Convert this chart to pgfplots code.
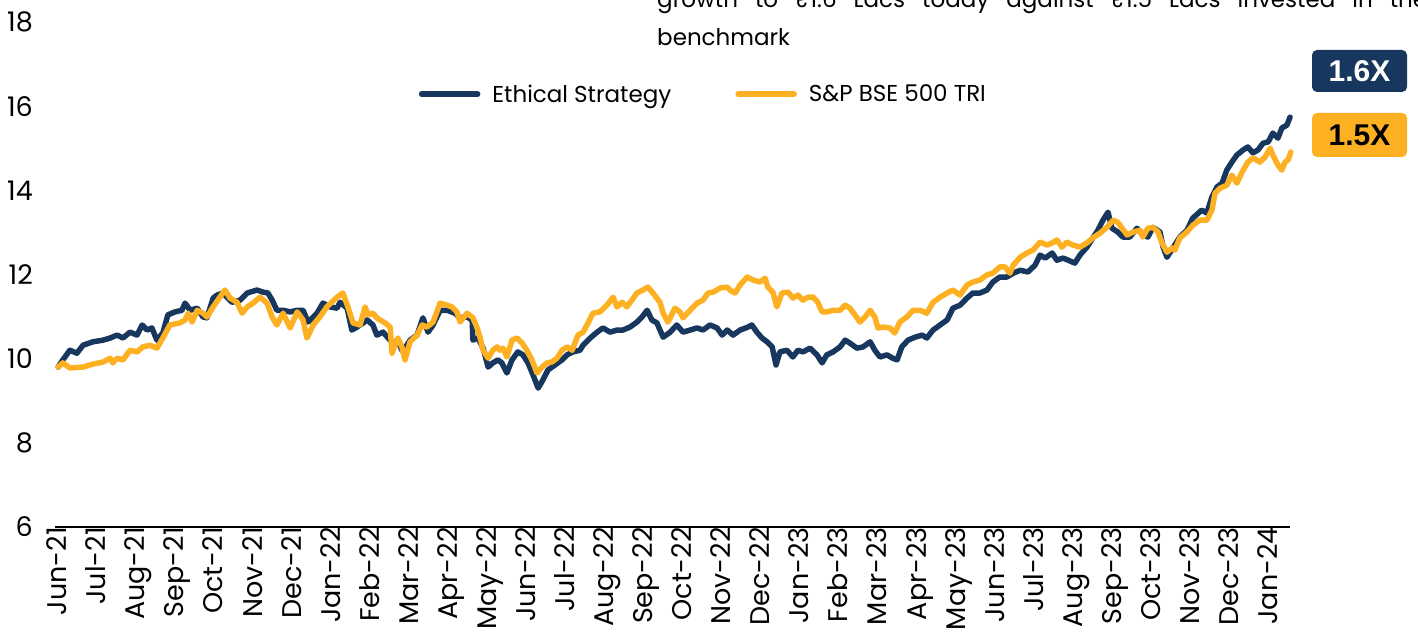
\documentclass[border=0pt]{standalone}
\usepackage{fontspec}
\setmainfont{Poppins}
\newfontfamily\labelfont{Liberation Sans}
\usepackage{pgfplots}
\usepackage{pgfplotstable}
\pgfplotsset{compat=1.18}
\definecolor{navy}{HTML}{17375E}
\definecolor{gold}{HTML}{FDB022}

\pgfplotstableread{
m v
0.08 9.80
0.20 9.97
0.38 10.20
0.56 10.13
0.72 10.32
0.97 10.40
1.23 10.44
1.41 10.49
1.59 10.56
1.74 10.49
1.92 10.63
2.10 10.56
2.23 10.80
2.36 10.68
2.48 10.73
2.61 10.44
2.76 10.61
2.89 11.04
3.07 11.11
3.25 11.15
3.33 11.32
3.46 11.15
3.64 11.20
3.79 10.99
3.89 10.97
4.05 11.44
4.15 11.51
4.30 11.56
4.53 11.34
4.74 11.39
4.92 11.56
5.17 11.63
5.33 11.58
5.45 11.56
5.56 11.39
5.68 11.15
5.84 11.15
6.02 11.11
6.20 11.15
6.35 11.15
6.48 10.87
6.71 11.08
6.86 11.32
7.04 11.23
7.22 11.20
7.30 11.34
7.48 11.20
7.60 10.68
7.73 10.75
7.89 10.85
7.99 10.92
8.14 10.80
8.24 10.56
8.40 10.63
8.53 10.49
8.65 10.37
8.78 10.44
8.88 10.20
8.96 10.25
9.09 10.44
9.27 10.56
9.42 10.97
9.55 10.63
9.68 10.80
9.86 11.15
10.04 11.15
10.24 11.08
10.37 10.97
10.55 10.99
10.68 10.92
10.70 10.44
10.83 10.49
10.96 10.25
11.09 9.80
11.21 9.90
11.34 9.97
11.44 9.90
11.57 9.66
11.70 9.97
11.85 10.16
11.98 10.09
12.11 9.90
12.24 9.61
12.37 9.30
12.49 9.49
12.62 9.73
12.80 9.85
12.98 9.97
13.11 10.09
13.26 10.16
13.44 10.20
13.52 10.32
13.70 10.49
13.88 10.63
14.03 10.73
14.21 10.63
14.39 10.68
14.54 10.68
14.72 10.75
14.90 10.87
15.03 10.99
15.16 11.15
15.28 10.92
15.41 10.85
15.57 10.51
15.75 10.63
15.92 10.80
16.08 10.63
16.26 10.68
16.44 10.73
16.59 10.68
16.77 10.80
16.95 10.73
17.08 10.56
17.21 10.68
17.36 10.56
17.54 10.68
17.74 10.75
17.84 10.80
17.97 10.63
18.10 10.49
18.23 10.40
18.36 10.28
18.46 9.85
18.56 10.16
18.74 10.20
18.89 10.04
19.02 10.20
19.15 10.16
19.33 10.25
19.51 10.09
19.64 9.90
19.76 10.09
19.92 10.16
20.10 10.28
20.23 10.44
20.35 10.37
20.53 10.25
20.69 10.28
20.87 10.40
20.99 10.20
21.12 10.04
21.30 10.09
21.45 10.01
21.56 9.97
21.68 10.28
21.84 10.44
22.02 10.51
22.20 10.56
22.32 10.49
22.48 10.68
22.66 10.80
22.84 10.92
22.99 11.20
23.17 11.27
23.35 11.44
23.50 11.56
23.68 11.56
23.86 11.63
24.01 11.82
24.19 11.94
24.37 11.94
24.53 12.03
24.71 12.10
24.91 12.06
25.09 12.22
25.22 12.46
25.35 12.39
25.53 12.51
25.65 12.34
25.81 12.39
25.94 12.34
26.11 12.27
26.24 12.46
26.42 12.65
26.57 12.87
26.70 13.05
26.83 13.29
26.96 13.48
27.06 13.10
27.21 13.01
27.34 12.89
27.52 12.89
27.70 13.10
27.85 12.94
27.98 12.89
28.11 13.12
28.29 13.01
28.37 12.65
28.47 12.41
28.62 12.63
28.80 12.89
28.98 13.05
29.13 13.34
29.36 13.53
29.49 13.46
29.62 13.84
29.75 14.08
29.88 14.17
30.00 14.48
30.13 14.67
30.26 14.84
30.42 14.96
30.54 15.03
30.67 14.89
30.80 14.96
30.93 15.12
31.06 15.15
31.18 15.36
31.31 15.24
31.41 15.48
31.54 15.55
31.62 15.74
}\ethical

\pgfplotstableread{
m v
0.08 9.80
0.20 9.90
0.38 9.78
0.72 9.80
0.97 9.87
1.23 9.92
1.41 10.01
1.48 9.90
1.59 10.01
1.74 9.97
1.92 10.20
2.10 10.16
2.25 10.28
2.43 10.32
2.61 10.25
2.76 10.49
2.94 10.80
3.20 10.85
3.33 10.92
3.41 11.08
3.51 10.87
3.64 11.15
3.79 11.08
3.89 10.99
4.05 11.23
4.22 11.46
4.35 11.63
4.48 11.44
4.66 11.34
4.79 11.08
4.92 11.23
5.07 11.32
5.25 11.46
5.43 11.32
5.56 10.99
5.68 10.80
5.84 11.08
6.02 10.73
6.20 11.11
6.35 10.92
6.45 10.49
6.61 10.80
6.78 10.99
6.96 11.23
7.22 11.46
7.37 11.56
7.50 11.23
7.63 10.85
7.81 10.80
7.94 11.23
8.01 11.04
8.14 11.08
8.24 10.97
8.32 10.92
8.45 10.85
8.58 10.75
8.63 10.13
8.70 10.32
8.78 10.49
8.88 10.28
8.96 9.97
9.09 10.40
9.27 10.56
9.40 10.80
9.52 10.75
9.68 10.87
9.86 11.32
10.04 11.27
10.16 11.23
10.29 11.11
10.37 10.87
10.55 11.08
10.70 10.97
10.80 10.75
10.88 10.51
10.96 10.20
11.09 10.01
11.21 10.20
11.32 10.28
11.39 10.20
11.47 10.25
11.57 10.04
11.70 10.44
11.83 10.49
11.96 10.37
12.08 10.20
12.21 9.97
12.34 9.66
12.47 9.80
12.60 9.90
12.72 9.92
12.85 10.01
12.98 10.20
13.11 10.28
13.24 10.20
13.39 10.56
13.52 10.63
13.65 10.85
13.77 11.08
13.95 11.11
14.13 11.27
14.29 11.46
14.39 11.23
14.52 11.34
14.64 11.23
14.77 11.39
14.90 11.56
15.05 11.63
15.18 11.70
15.31 11.56
15.49 11.34
15.57 11.08
15.69 10.87
15.75 10.97
15.87 11.20
16.00 11.11
16.08 10.97
16.26 11.15
16.44 11.32
16.59 11.39
16.72 11.56
16.85 11.58
17.03 11.68
17.21 11.70
17.28 11.63
17.41 11.56
17.54 11.75
17.72 11.94
17.87 11.87
18.05 11.82
18.18 11.91
18.25 11.70
18.38 11.58
18.48 11.23
18.61 11.56
18.77 11.58
18.89 11.44
19.02 11.51
19.15 11.39
19.28 11.46
19.41 11.46
19.53 11.34
19.64 11.11
19.76 11.11
19.92 11.15
20.10 11.15
20.23 11.27
20.35 11.20
20.48 11.04
20.61 10.87
20.74 10.99
20.87 11.15
20.99 10.99
21.07 10.73
21.20 10.75
21.38 10.73
21.50 10.61
21.63 10.87
21.81 10.99
21.97 11.15
22.15 11.15
22.32 11.08
22.48 11.34
22.66 11.46
22.84 11.56
22.99 11.63
23.17 11.51
23.35 11.75
23.50 11.82
23.68 11.87
23.86 11.99
24.01 12.03
24.19 12.18
24.32 12.18
24.45 12.03
24.53 12.22
24.71 12.41
24.88 12.51
25.04 12.58
25.22 12.77
25.40 12.70
25.53 12.75
25.65 12.82
25.78 12.65
25.91 12.77
26.06 12.70
26.24 12.65
26.42 12.75
26.57 12.87
26.75 12.98
26.93 13.12
27.09 13.29
27.21 13.24
27.32 13.10
27.45 12.94
27.60 13.01
27.78 13.05
27.85 12.89
27.98 13.10
28.11 13.12
28.24 13.01
28.34 12.75
28.47 12.53
28.60 12.63
28.67 12.58
28.80 12.87
28.98 13.01
29.13 13.17
29.31 13.29
29.49 13.29
29.62 13.53
29.70 13.93
29.83 14.05
30.00 14.12
30.13 14.36
30.26 14.17
30.39 14.43
30.54 14.67
30.67 14.77
30.85 14.67
30.98 14.79
31.11 15.00
31.18 14.84
31.31 14.60
31.41 14.48
31.49 14.67
31.57 14.72
31.64 14.91
}\bse

\begin{document}
\begin{tikzpicture}[x=1bp,y=1bp]
\path[use as bounding box] (0,0) rectangle (1418,634);
\begin{axis}[
  at={(55bp,107bp)}, anchor=south west,
  width=1235bp, height=505bp, scale only axis,
  xmin=0, xmax=31.62, ymin=6, ymax=18,
  clip=false,
  axis lines*=left,
  y axis line style={draw=none},
  x axis line style={black, line width=1.5bp},
  xtick style={draw=none}, ytick style={draw=none},
  major tick length=0pt,
  ytick={6,8,...,18},
  xtick={0,...,31},
  xticklabels={Jun-21,Jul-21,Aug-21,Sep-21,Oct-21,Nov-21,Dec-21,Jan-22,Feb-22,Mar-22,Apr-22,May-22,Jun-22,Jul-22,Aug-22,Sep-22,Oct-22,Nov-22,Dec-22,Jan-23,Feb-23,Mar-23,Apr-23,May-23,Jun-23,Jul-23,Aug-23,Sep-23,Oct-23,Nov-23,Dec-23,Jan-24},
  /pgf/number format/assume math mode=true,
  ticklabel style={font=\fontsize{27bp}{30bp}\selectfont, text=black},
  yticklabel style={anchor=east, inner sep=0pt, xshift=-22bp},
  xticklabel style={rotate=90, anchor=mid east, inner sep=0pt, yshift=-9bp},
  legend columns=2,
  legend style={draw=none, fill=none, at={(0.525,0.857)}, anchor=center,
    font=\fontsize{23bp}{26bp}\selectfont,
    /tikz/every odd column/.append style={column sep=10bp},
    /tikz/every even column/.append style={column sep=62bp},
    inner sep=0pt},
  legend image code/.code={\draw[#1, line width=5.5bp, line cap=round] (2bp,0bp) -- (58bp,0bp);},
  legend cell align=left,
]
\addplot[navy, line width=5.5bp, line join=round, line cap=round] table[x=m, y=v] {\ethical};
\addlegendentry{Ethical Strategy}
\addplot[gold, line width=5.5bp, line join=round, line cap=round] table[x=m, y=v] {\bse};
\addlegendentry{S\&P BSE 500 TRI}
\end{axis}
\node[anchor=base west, inner sep=0pt, font=\fontsize{23bp}{26bp}\selectfont] at (657,626) {\makebox[770bp][s]{growth to ₹1.6 Lacs today against ₹1.5 Lacs invested in the}};
\node[anchor=base west, inner sep=0pt, font=\fontsize{23bp}{26bp}\selectfont] at (657,588) {benchmark};
\node[fill=navy, rounded corners=5bp, minimum width=95bp, minimum height=42bp, inner sep=0pt, text=white, font=\labelfont\bfseries\fontsize{30bp}{32bp}\selectfont] at (1359.5,563) {1.6X};
\node[fill=gold, rounded corners=5bp, minimum width=95bp, minimum height=44bp, inner sep=0pt, text=black, font=\labelfont\bfseries\fontsize{30bp}{32bp}\selectfont] at (1359.5,499) {1.5X};
\end{tikzpicture}
\end{document}
